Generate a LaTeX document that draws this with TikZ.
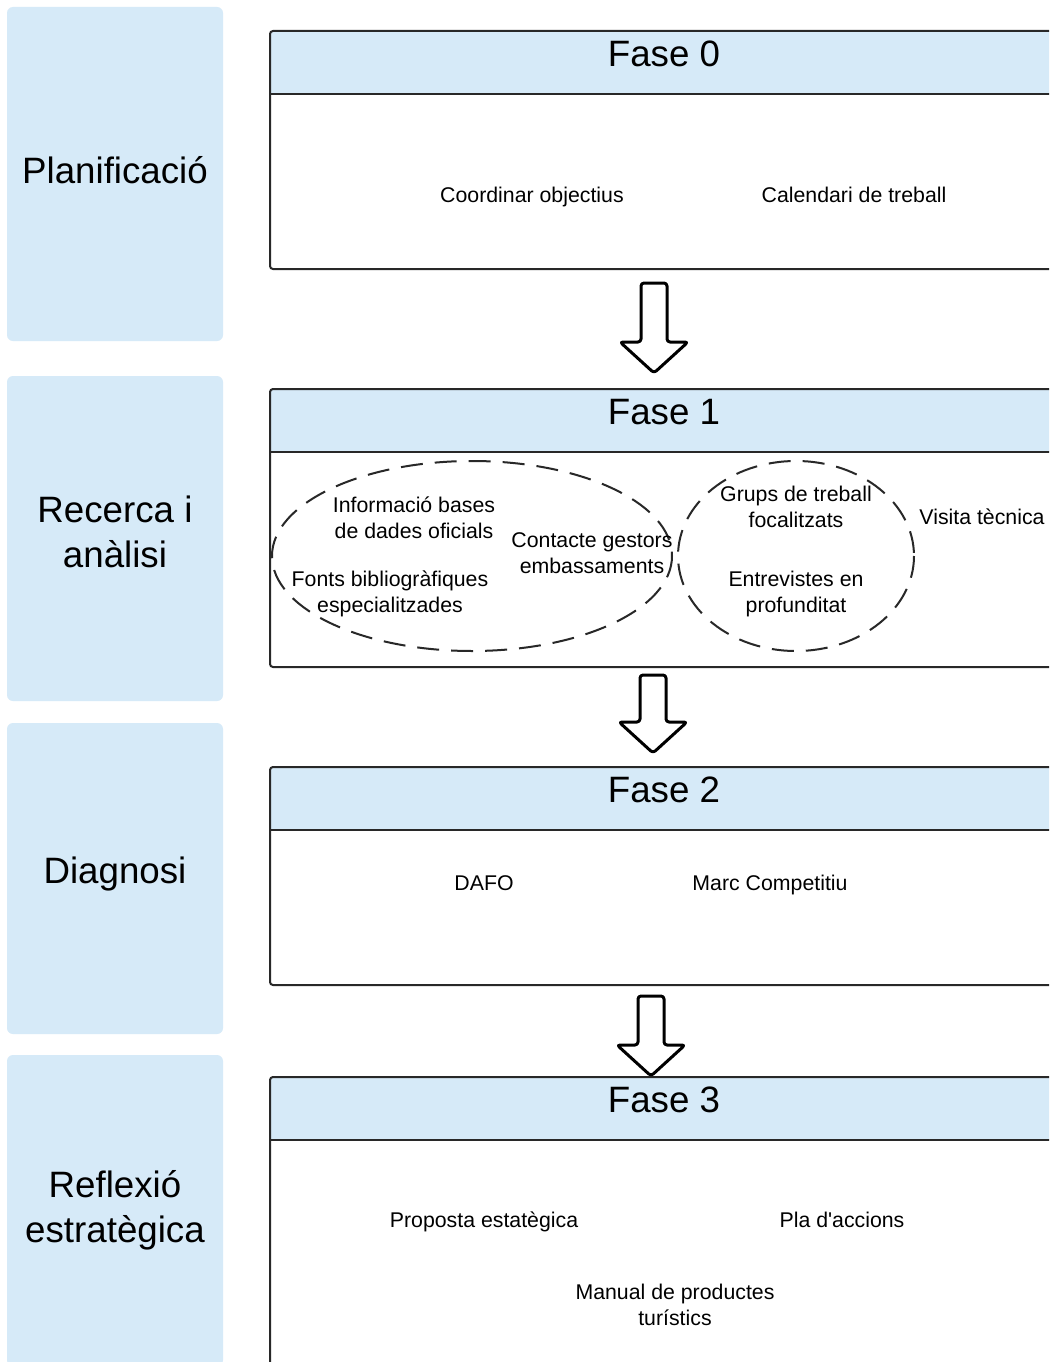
\documentclass[tikz,border=0pt]{standalone}
\usepackage{fontspec}
\setmainfont{Liberation Sans}
\usepackage{tikz}
\usetikzlibrary{positioning,calc}
\definecolor{headblue}{RGB}{214,234,248}
\definecolor{framegray}{RGB}{40,40,40}
\tikzset{
    stagebox/.style={
        fill=headblue,
        rounded corners=6pt,
        align=center,
        font=\fontsize{36.7}{45}\selectfont,
        minimum width=216pt,
        inner sep=0pt,
        outer sep=0pt
    },
    phaseframe/.style={
        draw=framegray,
        line width=2pt,
        rounded corners=3pt,
        minimum width=788pt,
        inner sep=0pt,
        outer sep=0pt,
        path picture={
            \fill[headblue, sharp corners] (path picture bounding box.north west) rectangle ([yshift=-63pt]path picture bounding box.north east);
            \draw[framegray, line width=2pt, sharp corners] ([yshift=-63pt]path picture bounding box.north west) -- ([yshift=-63pt]path picture bounding box.north east);
        }
    },
    phasetitle/.style={
        font=\fontsize{36.7}{45}\selectfont,
        inner sep=0pt
    },
    item/.style={
        align=center,
        font=\fontsize{21.3}{26}\selectfont,
        inner sep=0pt
    },
    group/.style={
        draw=framegray,
        line width=2pt,
        dash pattern=on 22pt off 12pt
    },
    blockarrow/.style={
        draw=black,
        fill=white,
        line width=3pt,
        line join=round,
        rounded corners=3pt,
        to path={
            let \p1=(\tikztostart), \p2=(\tikztotarget) in
            ({\x1-13pt},{\y1}) -- ({\x1+13pt},{\y1}) -- ({\x1+13pt},{\y2+31pt})
            -- ({\x1+34pt},{\y2+31pt}) -- (\p2) -- ({\x1-34pt},{\y2+31pt})
            -- ({\x1-13pt},{\y2+31pt}) -- cycle
        }
    }
}
\begin{document}
\begin{tikzpicture}[x=1pt, y=-1pt]
    \useasboundingbox[fill=white] (0,0) rectangle (1049,1362);
    \clip (0,0) rectangle (1049,1362);

    % stages on the left
    \node[stagebox, minimum height=334pt, text depth=9pt, anchor=north west] (plan) at (7,7) {Planificació};
    \node[stagebox, minimum height=325pt, text depth=14pt, below=35pt of plan] (recerca) {Recerca i\\anàlisi};
    \node[stagebox, minimum height=311pt, text depth=16pt, below=22pt of recerca] (diagnosi) {Diagnosi};
    \node[stagebox, minimum height=311pt, below=21pt of diagnosi] (reflexio) {Reflexió\\estratègica};

    % phases
    \node[phaseframe, minimum height=238pt, anchor=north west] (fase0) at (270,31) {};
    \node[phaseframe, minimum height=278pt, below=120pt of fase0] (fase1) {};
    \node[phaseframe, minimum height=218pt, below=100pt of fase1] (fase2) {};
    \node[phaseframe, minimum height=300pt, below=92pt of fase2] (fase3) {};

    \node[phasetitle, below=10pt of fase0.north] (title0) {Fase 0};
    \node[phasetitle, below=10pt of fase1.north] (title1) {Fase 1};
    \node[phasetitle, below=10pt of fase2.north] (title2) {Fase 2};
    \node[phasetitle, below=10pt of fase3.north] (title3) {Fase 3};

    % fase 0
    \node[item] (objectius) at (532,197) {Coordinar objectius};
    \node[item] (calendari) at (854,195) {Calendari de treball};

    % fase 1
    \draw[group] (472,556) ellipse [x radius=200, y radius=95];
    \draw[group] (796,556) ellipse [x radius=118, y radius=95];
    \node[item] (bases) at (414,518) {Informació bases\\de dades oficials};
    \node[item] (gestors) at (592,553) {Contacte gestors\\embassaments};
    \node[item] (fonts) at (390,594) {Fonts bibliogràfiques\\especialitzades};
    \node[item] (grups) at (796,507) {Grups de treball\\focalitzats};
    \node[item] (entrevistes) at (796,594) {Entrevistes en\\profunditat};
    \node[item] (visita) at (982,517) {Visita tècnica};

    % fase 2
    \node[item] (dafo) at (484,883) {DAFO};
    \node[item] (marc) at (770,885) {Marc Competitiu};

    % fase 3
    \node[item] (proposta) at (484,1222) {Proposta estatègica};
    \node[item] (pla) at (842,1220) {Pla d\textquotesingle accions};
    \node[item] (manual) at (675,1305) {Manual de productes\\turístics};

    % arrows between phases
    \draw[blockarrow] ([xshift=-10pt, yshift=-14pt]fase0.south) to ([xshift=-10pt, yshift=16pt]fase1.north);
    \draw[blockarrow] ([xshift=-11pt, yshift=-8pt]fase1.south) to ([xshift=-11pt, yshift=14pt]fase2.north);
    \draw[blockarrow] ([xshift=-13pt, yshift=-11pt]fase2.south) to ([xshift=-13pt, yshift=1pt]fase3.north);
\end{tikzpicture}
\end{document}
